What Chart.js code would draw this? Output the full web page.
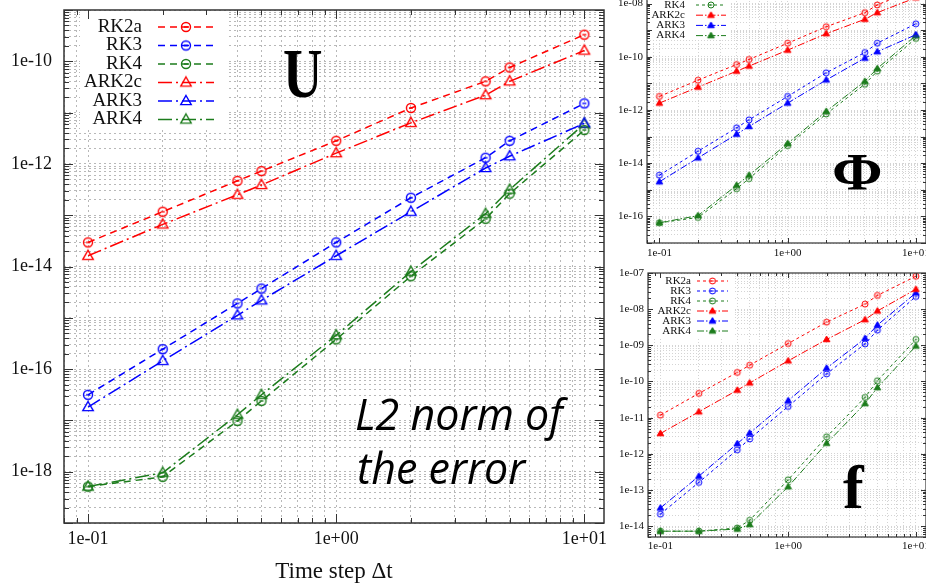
<!DOCTYPE html>
<html>
<head>
<meta charset="utf-8">
<script src="https://cdn.jsdelivr.net/npm/chart.js@4.4.1/dist/chart.umd.min.js"></script>
<style>
  html, body { margin: 0; padding: 0; background: #fff; overflow: hidden; width: 926px; height: 583px; }
  body { position: relative; }
  canvas { position: absolute; }
  #cU { left: 0; top: 0; width: 610px; height: 583px; }
  #cPhi { left: 600px; top: -40px; width: 340px; height: 310px; }
  #cF { left: 600px; top: 260px; width: 340px; height: 323px; }
</style>
</head>
<body>
<canvas id="cU" width="610" height="583"></canvas>
<canvas id="cPhi" width="340" height="310"></canvas>
<canvas id="cF" width="340" height="323"></canvas>
<script>
// time steps (x) shared by every panel
const steps = [0.1, 0.2, 0.4, 0.5, 1, 2, 4, 5, 10];
const names = ["RK2a", "RK3", "RK4", "ARK2c", "ARK3", "ARK4"];
const colors = ["#ff0000", "#0000ff", "#1c7c1c", "#ff0000", "#0000ff", "#1c7c1c"];
const kinds = ["circle", "circle", "circle", "triangle", "triangle", "triangle"];

// U panel (big one)
const uRK2a  = [2.95e-14, 1.17e-13, 4.68e-13, 7.24e-13, 2.82e-12, 1.23e-11, 4.07e-11, 7.59e-11, 3.31e-10];
const uRK3   = [3.16e-17, 2.45e-16, 1.91e-15, 3.72e-15, 2.95e-14, 2.19e-13, 1.32e-12, 2.82e-12, 1.51e-11];
const uRK4   = [5.13e-19, 7.94e-19, 9.77e-18, 2.40e-17, 3.80e-16, 6.46e-15, 8.51e-14, 2.63e-13, 4.57e-12];
const uARK2c = [1.62e-14, 6.61e-14, 2.51e-13, 3.89e-13, 1.62e-12, 6.31e-12, 2.19e-11, 4.07e-11, 1.62e-10];
const uARK3  = [1.82e-17, 1.45e-16, 1.12e-15, 2.19e-15, 1.62e-14, 1.17e-13, 8.32e-13, 1.41e-12, 6.17e-12];
const uARK4  = [5.13e-19, 9.55e-19, 1.29e-17, 3.16e-17, 4.57e-16, 7.94e-15, 1.07e-13, 3.16e-13, 6.03e-12];

// Phi panel
const pRK2a  = [3.24e-12, 1.32e-11, 5.13e-11, 7.94e-11, 3.24e-10, 1.35e-9, 4.57e-9, 8.91e-9, 3.55e-8];
const pRK3   = [3.55e-15, 2.82e-14, 2.14e-13, 4.27e-13, 3.24e-12, 2.51e-11, 1.45e-10, 3.24e-10, 1.74e-9];
const pRK4   = [5.75e-17, 9.12e-17, 1.10e-15, 2.63e-15, 4.57e-14, 7.08e-13, 9.33e-12, 2.88e-11, 4.90e-10];
const pARK2c = [1.82e-12, 7.24e-12, 2.88e-11, 4.47e-11, 1.78e-10, 7.41e-10, 2.57e-9, 4.57e-9, 1.66e-8];
const pARK3  = [2.00e-15, 1.58e-14, 1.23e-13, 2.40e-13, 1.82e-12, 1.35e-11, 8.91e-11, 1.55e-10, 6.76e-10];
const pARK4  = [5.75e-17, 1.07e-16, 1.48e-15, 3.55e-15, 5.50e-14, 8.91e-13, 1.20e-11, 3.63e-11, 6.31e-10];

// f panel
const fRK2a  = [1.17e-11, 4.68e-11, 1.78e-10, 2.82e-10, 1.12e-9, 4.37e-9, 1.38e-8, 2.40e-8, 8.13e-8];
const fRK3   = [2.14e-14, 1.62e-13, 1.29e-12, 2.57e-12, 2.04e-11, 1.62e-10, 1.10e-9, 2.63e-9, 2.24e-8];
const fRK4   = [7.24e-15, 7.24e-15, 8.91e-15, 1.45e-14, 1.91e-13, 2.95e-12, 3.63e-11, 1.05e-10, 1.45e-9];
const fARK2c = [3.63e-12, 1.45e-11, 5.75e-11, 9.12e-11, 3.72e-10, 1.45e-9, 5.13e-9, 8.91e-9, 3.55e-8];
const fARK3  = [3.16e-14, 2.40e-13, 1.91e-12, 3.72e-12, 2.95e-11, 2.34e-10, 1.55e-9, 3.63e-9, 2.82e-8];
const fARK4  = [7.24e-15, 7.24e-15, 8.32e-15, 1.10e-14, 1.23e-13, 1.95e-12, 2.45e-11, 6.76e-11, 9.55e-10];

const SERIF = "'Liberation Serif', 'DejaVu Serif', serif";

function isDecade(v) {
  const l = Math.log10(v);
  return Math.abs(l - Math.round(l)) < 1e-9;
}
function fmt(v) {
  const e = Math.round(Math.log10(v));
  return "1e" + (e < 0 ? "-" : "+") + String(Math.abs(e)).padStart(2, "0");
}
// gnuplot-like log ticks: 1..9 x 10^n
function logTicks(min, max) {
  const out = [];
  for (let e = Math.floor(Math.log10(min)); e <= Math.ceil(Math.log10(max)); e++) {
    for (let k = 1; k <= 9; k++) {
      const v = k * Math.pow(10, e);
      if (v >= min * 0.999 && v <= max * 1.001) out.push({ value: v });
    }
  }
  return out;
}

function marker(kind, color, r, lw, filled) {
  const s = Math.ceil(2 * r + 2 * lw + 2);
  const c = document.createElement("canvas");
  c.width = c.height = s;
  const g = c.getContext("2d");
  const m = s / 2;
  g.strokeStyle = color;
  g.fillStyle = color;
  g.lineWidth = lw;
  g.beginPath();
  if (kind === "circle") {
    g.arc(m, m, r, 0, Math.PI * 2);
  } else {
    g.moveTo(m, m - r);
    g.lineTo(m + r * 0.95, m + r * 0.65);
    g.lineTo(m - r * 0.95, m + r * 0.65);
    g.closePath();
  }
  if (filled) g.fill();
  g.stroke();
  if (kind === "circle") {
    g.beginPath();
    g.moveTo(m - r * 0.45, m);
    g.lineTo(m + r * 0.45, m);
    g.stroke();
  }
  return c;
}

// legend drawn gnuplot style: text right aligned, then a line sample
const keyPlugin = {
  id: "gpKey",
  beforeDatasetsDraw(chart, args, o) {
    const ctx = chart.ctx;
    ctx.save();
    ctx.fillStyle = "#fff";
    ctx.fillRect(o.box[0], o.box[1], o.box[2] - o.box[0], o.box[3] - o.box[1]);
    ctx.restore();
  },
  afterDatasetsDraw(chart, args, o) {
    const ctx = chart.ctx;
    ctx.save();
    ctx.font = o.font;
    ctx.textAlign = "right";
    ctx.textBaseline = "middle";
    chart.data.datasets.forEach((ds, i) => {
      const y = o.y + i * o.dy;
      ctx.fillStyle = "#111";
      ctx.fillText(ds.label, o.x, y);
      ctx.strokeStyle = ds.borderColor;
      ctx.lineWidth = ds.borderWidth;
      ctx.setLineDash(ds.borderDash);
      ctx.beginPath();
      ctx.moveTo(o.x0, y);
      ctx.lineTo(o.x1, y);
      ctx.stroke();
      ctx.setLineDash([]);
      const img = ds.pointStyle;
      ctx.drawImage(img, (o.x0 + o.x1) / 2 - img.width / 2, y - img.height / 2);
    });
    ctx.restore();
  }
};

// box round the plot and inward ticks
const framePlugin = {
  id: "frame",
  afterDatasetsDraw(chart, args, o) {
    const { ctx, chartArea: a, scales } = chart;
    ctx.save();
    ctx.strokeStyle = o.color;
    ctx.lineWidth = 1;
    ctx.beginPath();
    scales.y.ticks.forEach(t => {
      const y = Math.round(scales.y.getPixelForValue(t.value)) + 0.5;
      const len = isDecade(t.value) ? o.major : o.minor;
      ctx.moveTo(a.left, y); ctx.lineTo(a.left + len, y);
      ctx.moveTo(a.right, y); ctx.lineTo(a.right - len, y);
    });
    scales.x.ticks.forEach(t => {
      const x = Math.round(scales.x.getPixelForValue(t.value)) + 0.5;
      const len = isDecade(t.value) ? o.major : o.minor;
      ctx.moveTo(x, a.bottom); ctx.lineTo(x, a.bottom - len);
      ctx.moveTo(x, a.top); ctx.lineTo(x, a.top + len);
    });
    ctx.stroke();
    ctx.lineWidth = o.width;
    ctx.strokeRect(a.left, a.top, a.right - a.left, a.bottom - a.top);
    ctx.restore();
  }
};

// big annotations (U, Phi, f, "L2 norm of the error")
const notesPlugin = {
  id: "notes",
  afterDraw(chart, args, o) {
    const ctx = chart.ctx;
    (o.items || []).forEach(n => {
      ctx.save();
      ctx.translate(n.x, n.y);
      ctx.scale(n.sx || 1, 1);
      ctx.font = n.font;
      ctx.fillStyle = "#000";
      ctx.textAlign = "left";
      ctx.textBaseline = "alphabetic";
      ctx.fillText(n.text, 0, 0);
      ctx.restore();
    });
  }
};

function makeChart(id, series, o) {
  const datasets = series.map((vals, i) => ({
    label: names[i],
    data: steps.map((x, j) => ({ x: x, y: vals[j] })),
    borderColor: colors[i],
    backgroundColor: colors[i],
    borderWidth: o.lw,
    borderDash: kinds[i] === "circle" ? o.dashRK : o.dashARK,
    pointStyle: marker(kinds[i], colors[i], kinds[i] === "circle" ? o.rc : o.rt, o.mlw,
                       o.filledTri && kinds[i] === "triangle"),
    pointRadius: o.rc,
    fill: false,
    tension: 0
  }));
  const tickFont = { family: SERIF, size: o.fontSize, lineHeight: 1 };
  return new Chart(document.getElementById(id), {
    type: "line",
    data: { datasets: datasets },
    options: {
      responsive: false,
      animation: false,
      events: [],
      layout: { padding: { top: o.padTop, right: o.padRight, left: 0, bottom: 0 } },
      plugins: {
        legend: { display: false },
        tooltip: { enabled: false },
        gpKey: o.key,
        frame: { color: "#333", width: o.frameW, major: o.tickMajor, minor: o.tickMinor },
        notes: { items: o.notes }
      },
      scales: {
        x: {
          type: "logarithmic",
          min: 0.08, max: 12,
          afterBuildTicks: s => { s.ticks = logTicks(0.08, 12); },
          afterFit: s => { s.height = o.xH; },
          ticks: {
            autoSkip: false, maxRotation: 0, padding: 0, color: "#111", font: tickFont,
            callback: v => isDecade(v) ? fmt(v) : ""
          },
          grid: { color: o.gridColor, lineWidth: 1, drawTicks: true, tickLength: o.xPad, tickColor: "rgba(0,0,0,0)" },
          border: { display: false, dash: o.gridDash },
          title: o.xTitle || { display: false }
        },
        y: {
          type: "logarithmic",
          min: o.yMin, max: o.yMax,
          afterBuildTicks: s => { s.ticks = logTicks(o.yMin, o.yMax); },
          afterFit: s => { s.width = o.yW; },
          ticks: {
            autoSkip: false, padding: 0, color: "#111", font: tickFont,
            callback: v => (isDecade(v) && Math.round(Math.log10(v)) % o.yEvery === 0) ? fmt(v) : ""
          },
          grid: { color: o.gridColor, lineWidth: 1, drawTicks: true, tickLength: o.yPad, tickColor: "rgba(0,0,0,0)" },
          border: { display: false, dash: o.gridDash }
        }
      }
    },
    plugins: [keyPlugin, framePlugin, notesPlugin]
  });
}

// main U panel
makeChart("cU", [uRK2a, uRK3, uRK4, uARK2c, uARK3, uARK4], {
  lw: 1.5, mlw: 1.4, rc: 4.5, rt: 5.5, filledTri: false,
  dashRK: [7, 5], dashARK: [14, 4, 2, 4],
  fontSize: 18, padTop: 10, padRight: 6, xH: 60, yW: 64, xPad: 7, yPad: 12,
  yMin: 1e-19, yMax: 1e-9, yEvery: 2,
  gridColor: "#b8b8b8", gridDash: [2, 3], frameW: 1.5, tickMajor: 9, tickMinor: 5,
  xTitle: {
    display: true, text: "Time step Δt", color: "#111",
    font: { family: SERIF, size: 23, lineHeight: 1 }, padding: { top: 0, bottom: 0 }
  },
  key: { x: 142, y: 27, dy: 18.5, x0: 158, x1: 214, font: "19px " + SERIF, box: [80, 11, 226, 130] },
  notes: [
    { text: "U", x: 283, y: 97, font: "bold 70px " + SERIF, sx: 0.78 },
    { text: "L2 norm of", x: 355, y: 430, font: "italic 43px 'Open Sans', sans-serif" },
    { text: "the error", x: 357, y: 484, font: "italic 43px 'Open Sans', sans-serif" }
  ]
});

// Phi panel (top right, partly cut off at the top)
makeChart("cPhi", [pRK2a, pRK3, pRK4, pARK2c, pARK3, pARK4], {
  lw: 1, mlw: 1, rc: 3, rt: 3.5, filledTri: true,
  dashRK: [3, 3], dashARK: [7, 2, 1.5, 2],
  fontSize: 11, padTop: 17, padRight: 14, xH: 27, yW: 47, xPad: 5, yPad: 4,
  yMin: 1e-17, yMax: 1e-7, yEvery: 2,
  gridColor: "#d4d4d4", gridDash: [1, 2], frameW: 1.2, tickMajor: 5, tickMinor: 3,
  key: { x: 85, y: 24.6, dy: 10.2, x0: 96, x1: 126, font: "11px " + SERIF, box: [48, 18, 130, 80] },
  notes: [
    { text: "Φ", x: 232, y: 230, font: "bold 53px " + SERIF, sx: 1.15 }
  ]
});

// f panel (bottom right)
makeChart("cF", [fRK2a, fRK3, fRK4, fARK2c, fARK3, fARK4], {
  lw: 1, mlw: 1, rc: 3, rt: 3.5, filledTri: true,
  dashRK: [3, 3], dashARK: [7, 2, 1.5, 2],
  fontSize: 11, padTop: 13, padRight: 14, xH: 46, yW: 48, xPad: 4, yPad: 4,
  yMin: 5e-15, yMax: 1e-7, yEvery: 1,
  gridColor: "#d4d4d4", gridDash: [1, 2], frameW: 1.2, tickMajor: 5, tickMinor: 3,
  key: { x: 91, y: 21, dy: 10, x0: 97, x1: 128, font: "11px " + SERIF, box: [49, 14, 133, 78] },
  notes: [
    { text: "f", x: 243, y: 248, font: "bold 62px " + SERIF }
  ]
});
</script>
</body>
</html>
